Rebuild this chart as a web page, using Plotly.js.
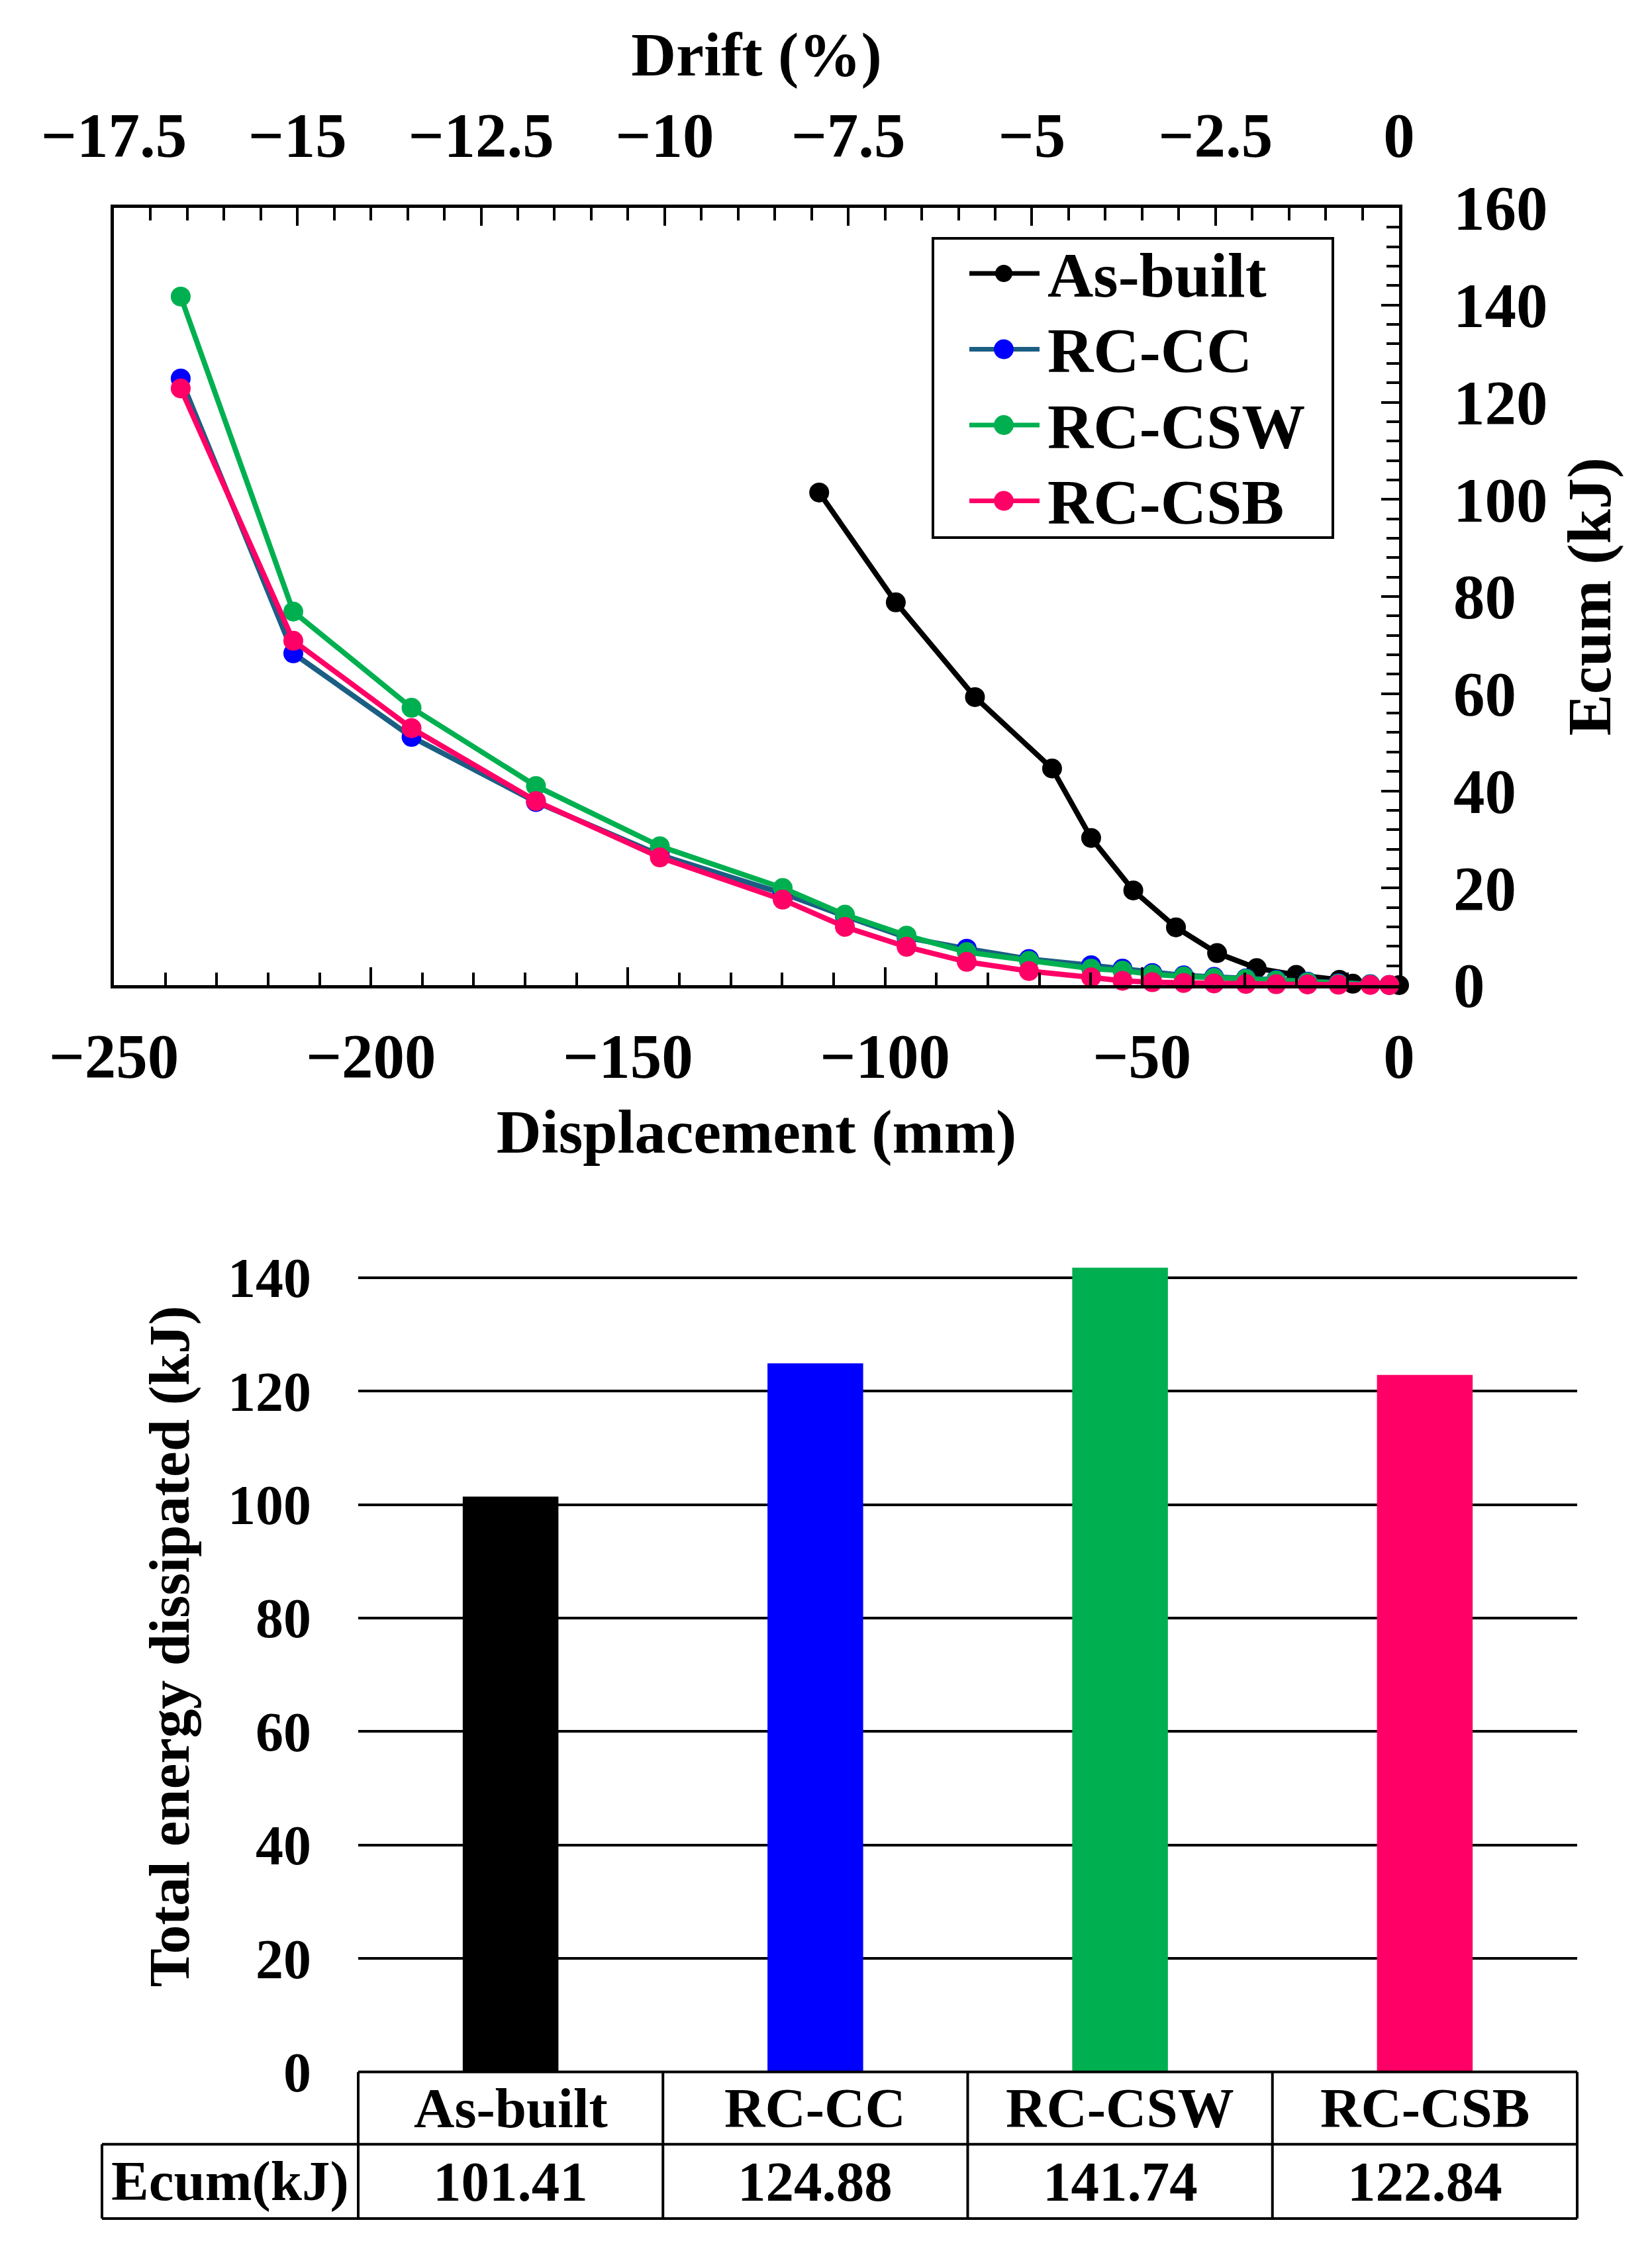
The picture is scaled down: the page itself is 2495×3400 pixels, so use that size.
<!DOCTYPE html>
<html>
<head>
<meta charset="utf-8">
<script src="https://cdn.plot.ly/plotly-3.0.1.min.js"></script>
<style>
  html, body { margin: 0; padding: 0; background: #fff; }
  #plot { width: 2495px; height: 3400px; }
</style>
</head>
<body>
<div id="plot"></div>
<script>
// cumulative dissipated energy (kJ) against displacement (mm)
const asBuiltDisp = [-112.8, -97.9, -82.5, -67.5, -59.9, -51.7, -43.4, -35.4, -27.7, -20.0, -11.6, -9.0, 0];
const asBuiltEcum = [101.41, 78.8, 59.3, 44.6, 30.3, 19.5, 11.9, 6.6, 3.5, 2.1, 1.1, 0.3, 0];

const rcDisp = [-237.0, -215.1, -192.1, -167.9, -143.8, -119.9, -107.8, -95.8, -84.1, -72.0,
                -59.9, -53.8, -48.0, -41.9, -36.0, -29.8, -23.9, -17.8, -11.8, -5.6, -1.9];
const rcccEcum = [124.88, 68.3, 51.1, 37.7, 26.8, 18.9, 14.2, 9.8, 7.5, 5.4,
                  4.1, 3.4, 2.5, 2.0, 1.7, 1.4, 1.1, 0.7, 0.4, 0.2, 0.05];
const rccswEcum = [141.74, 76.9, 57.1, 41.0, 28.6, 20.0, 14.5, 10.2, 6.8, 5.0,
                   3.4, 3.0, 2.2, 1.8, 1.5, 1.3, 1.0, 0.6, 0.3, 0.15, 0.05];
const rccsbEcum = [122.84, 70.9, 52.9, 37.9, 26.3, 17.6, 12.0, 7.9, 4.8, 2.9,
                   1.6, 0.9, 0.6, 0.45, 0.35, 0.25, 0.2, 0.15, 0.1, 0.05, 0.02];

// totals for the bar chart and the table under it
const specimens = ['As-built', 'RC-CC', 'RC-CSW', 'RC-CSB'];
const totalEnergy = [101.41, 124.88, 141.74, 122.84];
const barColors = ['#000000', '#0000ff', '#00b050', '#ff0066'];
const lineColors = ['#000000', '#1b5e84', '#00b050', '#ff0066'];
const markerColors = ['#000000', '#0000ff', '#00b050', '#ff0066'];

const dispRange = [-250, 0];
const driftRange = [-17.5, 0];
const storyHeight = 1428.6;   // mm, drift = disp / height

const W = 2495, H = 3400;
const px = v => v / W;          // pixel column -> paper x
const py = v => 1 - v / H;      // pixel row -> paper y

const baseFont = { family: 'Liberation Serif, Times New Roman, serif', color: '#000', weight: 'bold' };
const f = size => ({ ...baseFont, size: size });

function curve(i, x, y) {
    return {
        type: 'scatter',
        mode: 'lines+markers',
        name: specimens[i],
        x: x,
        y: y,
        xaxis: 'x',
        yaxis: 'y',
        line: { color: lineColors[i], width: 8 },
        marker: { color: markerColors[i], size: 30 },
        cliponaxis: false,
        hoverinfo: 'none'
    };
}

const traces = [
    curve(0, asBuiltDisp, asBuiltEcum),
    curve(1, rcDisp, rcccEcum),
    curve(2, rcDisp, rccswEcum),
    curve(3, rcDisp, rccsbEcum),
    {
        // same As-built points on the drift scale, invisible, so the top axis gets drawn
        type: 'scatter',
        mode: 'markers',
        x: asBuiltDisp.map(d => d / storyHeight * 100),
        y: asBuiltEcum,
        xaxis: 'x2',
        yaxis: 'y',
        marker: { opacity: 0 },
        hoverinfo: 'none'
    },
    {
        type: 'bar',
        x: specimens,
        y: totalEnergy,
        xaxis: 'x3',
        yaxis: 'y3',
        marker: { color: barColors },
        hoverinfo: 'none'
    }
];

const tickStyle = {
    ticks: 'inside',
    ticklen: 27,
    tickwidth: 4,
    tickcolor: '#000',
    showline: true,
    linewidth: 5,
    linecolor: '#000',
    showgrid: false,
    zeroline: false,
    tickfont: f(95)
};
const minorStyle = { ticks: 'inside', ticklen: 19, tickwidth: 4, tickcolor: '#000' };

const shapes = [];
const annotations = [];

// legend box in the top chart, drawn by hand so its spacing matches the original
const legLeft = 1409, legRight = 2013, legTop = 360, legBottom = 812;
const legRow0 = 413, legRowGap = 114.5;
const legLineX = [1464, 1570], legMarkX = 1516, legTextX = 1580;
shapes.push({ type: 'rect', xref: 'paper', yref: 'paper',
    x0: px(legLeft), x1: px(legRight), y0: py(legBottom), y1: py(legTop),
    line: { color: '#000', width: 4 }, fillcolor: 'rgba(0,0,0,0)' });
specimens.forEach((name, i) => {
    const yc = legRow0 + i * legRowGap;
    const r = i === 0 ? 13 : 15;
    shapes.push({ type: 'line', xref: 'paper', yref: 'paper',
        x0: px(legLineX[0]), x1: px(legLineX[1]), y0: py(yc), y1: py(yc),
        line: { color: lineColors[i], width: 7 } });
    shapes.push({ type: 'circle', xref: 'paper', yref: 'paper',
        x0: px(legMarkX - r), x1: px(legMarkX + r), y0: py(yc + r), y1: py(yc - r),
        fillcolor: markerColors[i], line: { width: 0 } });
    annotations.push({ xref: 'paper', yref: 'paper', x: px(legTextX), y: py(yc + 2),
        xanchor: 'left', yanchor: 'middle', text: name, font: f(96), showarrow: false });
});

// table under the bars: one column per specimen plus a label column on the left
const n = specimens.length;
const labelColLeft = (154 - 541) / (2382 - 541);
const rowTop = py(3129.6), rowMid = py(3238.8), rowBot = py(3351);
const tableLine = { color: '#000', width: 4 };
function tableSeg(x0, y0, x1, y1) {
    shapes.push({ type: 'line', xref: 'x3 domain', yref: 'paper', x0: x0, y0: y0, x1: x1, y1: y1, line: tableLine });
}
tableSeg(0, rowTop, 1, rowTop);
tableSeg(labelColLeft, rowMid, 1, rowMid);
tableSeg(labelColLeft, rowBot, 1, rowBot);
tableSeg(labelColLeft, rowBot, labelColLeft, rowMid);
for (let i = 0; i <= n; i++) {
    tableSeg(i / n, rowBot, i / n, rowTop);
}

specimens.forEach((name, i) => {
    annotations.push({ xref: 'x3', yref: 'paper', x: name, y: (rowTop + rowMid) / 2,
        text: name, showarrow: false, font: f(85), xanchor: 'center', yanchor: 'middle' });
    annotations.push({ xref: 'x3', yref: 'paper', x: name, y: (rowMid + rowBot) / 2,
        text: totalEnergy[i].toFixed(2), showarrow: false, font: f(85), xanchor: 'center', yanchor: 'middle' });
});
annotations.push({ xref: 'x3 domain', yref: 'paper', x: labelColLeft / 2, y: (rowMid + rowBot) / 2,
    text: 'Ecum(kJ)', showarrow: false, font: f(85), xanchor: 'center', yanchor: 'middle' });

const layout = {
    width: W,
    height: H,
    margin: { l: 0, r: 0, t: 0, b: 0 },
    paper_bgcolor: '#fff',
    plot_bgcolor: 'rgba(0,0,0,0)',
    font: f(95),
    showlegend: false,
    xaxis: {
        ...tickStyle,
        domain: [px(172), px(2113)],
        anchor: 'y',
        range: dispRange,
        dtick: 50,
        minor: { ...minorStyle, dtick: 10 },
        ticklabelstandoff: 21,
        title: { text: 'Displacement (mm)', font: f(94), standoff: 29 }
    },
    xaxis2: {
        ...tickStyle,
        overlaying: 'x',
        side: 'top',
        anchor: 'y',
        range: driftRange,
        tick0: 0,
        dtick: 2.5,
        minor: { ...minorStyle, dtick: 0.5 },
        ticklabelstandoff: 34,
        title: { text: 'Drift (%)', font: f(94), standoff: 8 }
    },
    yaxis: {
        ...tickStyle,
        domain: [py(1488), py(314)],
        anchor: 'x',
        side: 'right',
        mirror: true,
        range: [0, 160],
        dtick: 20,
        minor: { ...minorStyle, dtick: 4 },
        ticklabelstandoff: 58,
        title: { text: 'Ecum (kJ)', font: f(94), standoff: 31 }
    },
    xaxis3: {
        domain: [px(541), px(2382)],
        anchor: 'y3',
        type: 'category',
        range: [-0.5, n - 0.5],
        showticklabels: false,
        ticks: '',
        showline: false,
        showgrid: false,
        zeroline: false
    },
    yaxis3: {
        domain: [py(3129.6), py(1844)],
        anchor: 'x3',
        range: [0, 150],
        dtick: 20,
        ticks: '',
        showline: false,
        showgrid: true,
        gridcolor: '#000',
        gridwidth: 4,
        zeroline: false,
        tickfont: f(84),
        ticklabelstandoff: 70,
        title: { text: 'Total energy dissipated (kJ)', font: f(87), standoff: 29 }
    },
    bargap: 0.686,
    shapes: shapes,
    annotations: annotations
};

Plotly.newPlot('plot', traces, layout, { staticPlot: true });
</script>
</body>
</html>
